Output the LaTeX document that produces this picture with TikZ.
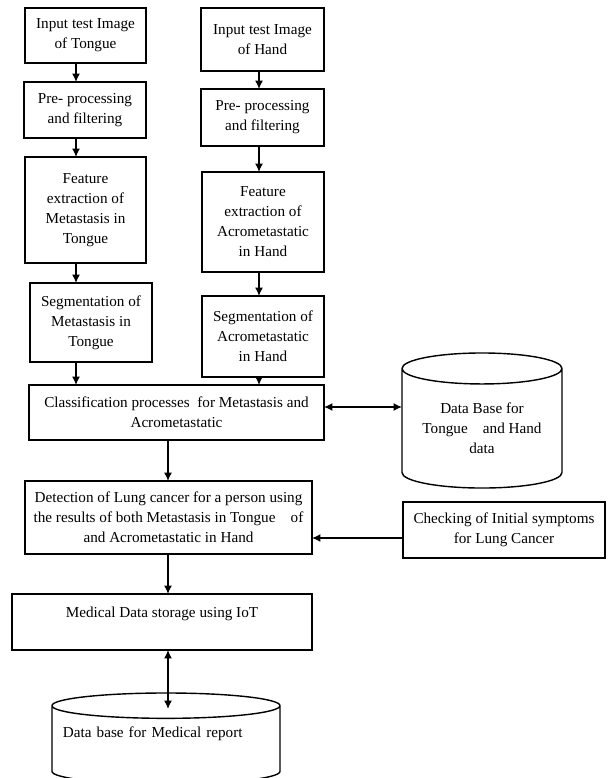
\documentclass[tikz,border=0pt]{standalone}
\usepackage{fontspec}
\setmainfont{Liberation Serif}
\usepackage{tikz}
\usetikzlibrary{arrows.meta, shapes.geometric, calc}

\tikzset{
  box/.style={draw, rectangle, align=center, inner sep=0pt, outer sep=0pt,
    font=\fontsize{10.8}{14.2}\selectfont},
  dbase/.style={draw, cylinder, shape border rotate=90, align=center,
    inner sep=0pt, outer sep=0pt, anchor=shape center,
    font=\fontsize{10.8}{14.2}\selectfont},
  arr/.style={-{Latex[length=2.1mm, width=2mm]}},
  dbl/.style={{Latex[length=2.1mm, width=2mm]}-{Latex[length=2.1mm, width=2mm]}}
}

\begin{document}
\begin{tikzpicture}[x=0.025cm, y=-0.025cm, line width=1pt]
  \clip (0,0) rectangle (610,778);

  % Tongue column
  \node[box, minimum width=30.25mm, minimum height=13.75mm] (tin1) at (85.5,35.5) {Input test Image\\ of Tongue};
  \node[box, minimum width=30.5mm, minimum height=14mm] (pre1) at (85,110) {Pre- processing\\ and filtering};
  \node[box, minimum width=30.25mm, minimum height=26.5mm] (fea1) at (85.5,210) {Feature\\ extraction of\\ Metastasis in\\ Tongue};
  \node[box, minimum width=30.5mm, minimum height=19.75mm] (seg1) at (91,322.5) {Segmentation of\\ Metastasis in\\ Tongue};

  % Hand column
  \node[box, minimum width=30.75mm, minimum height=15.75mm] (tin2) at (262.5,39.5) {Input test Image\\ of Hand};
  \node[box, minimum width=30.75mm, minimum height=14.25mm] (pre2) at (262.5,117.5) {Pre- processing\\ and filtering};
  \node[box, minimum width=30.5mm, minimum height=25mm] (fea2) at (263,222) {Feature\\ extraction of\\ Acrometastatic\\ in Hand};
  \node[box, minimum width=30.5mm, minimum height=20.25mm] (seg2) at (263,336.5) {Segmentation of\\ Acrometastatic\\ in Hand};

  % classification, detection, storage
  \node[box, minimum width=73.75mm, minimum height=13.75mm] (cls) at (176.5,412.5) {Classification processes\ \ for Metastasis and\\ Acrometastatic};
  \node[dbase, minimum width=40mm, minimum height=33.75mm, aspect=0.26] (db1) at (482,420.5) {Data Base for\\ Tongue\quad and Hand\\ data};
  \node[box, minimum width=71.75mm, minimum height=18.25mm] (det) at (168.5,517.5) {Detection of Lung cancer for a person using\\ the results of both Metastasis in Tongue\quad of\\ and Acrometastatic in Hand};
  \node[box, minimum width=50.5mm, minimum height=14mm] (chk) at (504,530) {Checking of Initial symptoms\\ for Lung Cancer};
  \node[box, minimum width=75mm, minimum height=14mm] (med) at (162,622) {Medical Data storage using IoT\\ \mbox{}};
  \node[dbase, minimum width=57mm, minimum height=22.75mm, aspect=0.123, text width=51.5mm, align=left] (db2) at (166,738.5) {Data base for Medical report\\[4pt] \mbox{}};

  % arrows
  \coordinate (colL) at (76,0);
  \coordinate (colR) at (259,0);
  \coordinate (colM) at (168,0);
  \foreach \a/\b in {tin1/pre1, pre1/fea1, fea1/seg1, seg1/cls}
    \draw[arr] (\a.south -| colL) -- (\b.north -| colL);
  \foreach \a/\b in {tin2/pre2, pre2/fea2, fea2/seg2, seg2/cls}
    \draw[arr] (\a.south -| colR) -- (\b.north -| colR);
  \draw[arr] (cls.south -| colM) -- (det.north -| colM);
  \draw[arr] (det.south -| colM) -- (med.north -| colM);
  \coordinate (clsR) at ($(cls.east)+(0,-5.5)$);
  \draw[dbl] (clsR) -- (clsR -| db1.west);
  \coordinate (chkL) at ($(chk.west)+(0,8)$);
  \draw[arr] (chkL) -- (chkL -| det.east);
  \coordinate (db2T) at ($(db2.north -| colM)+(0,16)$);
  \draw[dbl] (med.south -| colM) -- (db2T);
\end{tikzpicture}
\end{document}
